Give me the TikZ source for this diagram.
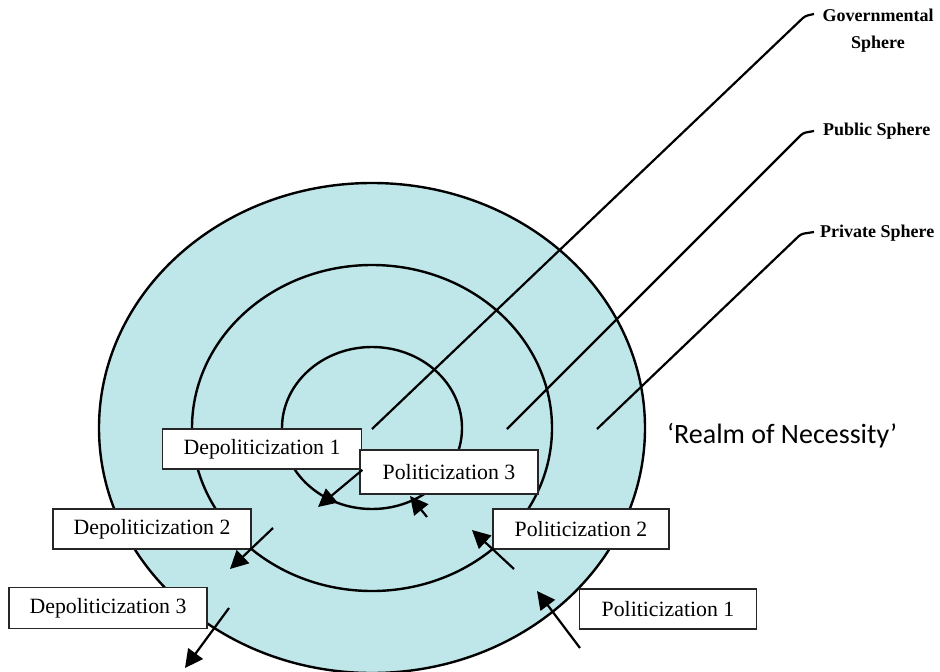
\documentclass[tikz,border=0pt]{standalone}
\usepackage{fontspec}
\setmainfont{Liberation Serif}
\newfontfamily\realmfont{Carlito}
\usetikzlibrary{arrows.meta}
\definecolor{sphereblue}{RGB}{191,231,234}

\begin{document}
\begin{tikzpicture}[x=1pt,y=-1pt,
  ring/.style={draw=black,line width=2.4pt,fill=sphereblue},
  leader/.style={draw=black,line width=2.2pt,rounded corners=3pt},
  stagebox/.style={draw=black!85,line width=1.8pt,fill=white,minimum height=40pt,inner sep=0pt,font=\fontsize{21.8}{24}\selectfont},
  shiftarrow/.style={draw=black,line width=2.2pt,-{Triangle[length=18pt,width=18pt]}},
  spherelabel/.style={font=\bfseries\fontsize{18}{27}\selectfont,align=center,inner sep=0pt}]
\tikzstyle{every node}+=[inner sep=0pt]
\useasboundingbox (0,0) rectangle (940,672);
\coordinate (ctr) at (372,428);
\draw [ring] (ctr) ellipse [x radius=273,y radius=245];
\draw [ring] (ctr) ellipse [x radius=180,y radius=163];
\draw [ring] (ctr) ellipse [x radius=90,y radius=81];
\coordinate (govin) at (372,429);
\coordinate (pubin) at (507,429);
\coordinate (privin) at (597,429);
\coordinate (govbend) at (805,16);
\coordinate (govend) at (814,14);
\coordinate (pubbend) at (803,133);
\coordinate (pubend) at (814,131);
\coordinate (privbend) at (801,234);
\coordinate (privend) at (814,232);
\node [spherelabel,anchor=north] (govlbl) at (878,8.5) {Governmental\\Sphere};
\node [spherelabel,anchor=west] (publbl) at (823,131) {Public Sphere};
\node [spherelabel,anchor=west] (privlbl) at (820,233) {Private Sphere};
\draw [leader] (govin) -- (govbend) -- (govend);
\draw [leader] (pubin) -- (pubbend) -- (pubend);
\draw [leader] (privin) -- (privbend) -- (privend);
\node [anchor=base west,font=\realmfont\fontsize{28}{34}\selectfont] (realm) at (667,443) {‘Realm of Necessity’};
\node [stagebox,minimum width=199pt] (depol1) at (262,449) {Depoliticization 1};
\node [stagebox,minimum width=178pt,minimum height=44pt] (pol3) at (449,472) {Politicization 3};
\node [stagebox,minimum width=198pt] (depol2) at (152,529) {Depoliticization 2};
\node [stagebox,minimum width=176pt] (pol2) at (581,529) {Politicization 2};
\node [stagebox,minimum width=198pt,minimum height=41pt] (depol3) at (108,608) {Depoliticization 3};
\node [stagebox,minimum width=177pt] (pol1) at (668,609) {Politicization 1};
\coordinate (d1tip) at (318,507);
\coordinate (d2tail) at (273,528);
\coordinate (d2tip) at (230,569);
\coordinate (d3tail) at (229,608);
\coordinate (d3tip) at (185,668);
\coordinate (p3tail) at (427,517);
\coordinate (p3tip) at (410,496);
\coordinate (p2tail) at (514,569);
\coordinate (p2tip) at (472,530);
\coordinate (p1tail) at (580,648);
\coordinate (p1tip) at (537,591);
\draw [shiftarrow] (depol1.south east) -- (d1tip);
\draw [shiftarrow] (d2tail) -- (d2tip);
\draw [shiftarrow] (d3tail) -- (d3tip);
\draw [shiftarrow] (p3tail) -- (p3tip);
\draw [shiftarrow] (p2tail) -- (p2tip);
\draw [shiftarrow] (p1tail) -- (p1tip);
\end{tikzpicture}
\end{document}
